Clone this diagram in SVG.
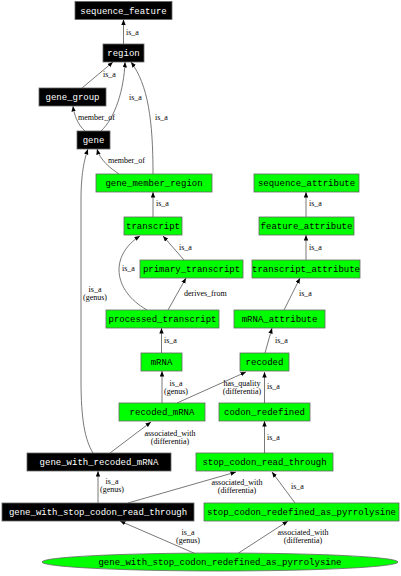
<svg xmlns="http://www.w3.org/2000/svg" width="401" height="576" viewBox="0 0 401 576">
<style>
.n rect, .n ellipse { stroke:#666; stroke-width:0.8; }
.g rect, .g ellipse { fill:#00ff00; }
.b rect { fill:#000; }
.n text { font-family:"Liberation Mono", monospace; font-size:9px; text-anchor:middle; }
.g text { fill:#000; }
.b text { fill:#fff; }
.e path { fill:none; stroke:#555; stroke-width:0.8; marker-end:url(#ah); }
.l { font-family:"Liberation Serif", serif; font-size:8px; fill:#000; }
.m { text-anchor:middle; }
</style>
<defs>
<marker id="ah" markerUnits="userSpaceOnUse" markerWidth="6" markerHeight="5" refX="5.5" refY="2.2" orient="auto">
<path d="M0,0 L5.5,2.2 L0,4.4 z" fill="#000"/>
</marker>
</defs>
<rect width="401" height="576" fill="#fff"/>
<g class="e" id="edges">
<path d="M123.5,44 L123.5,19.5"/>
<path d="M82,88 L113,62"/>
<path d="M101,131 C115,118 124,90 125,62"/>
<path d="M85,131 C78,125 74,115 73,106"/>
<path d="M153,174 C153,120 148,85 131,62"/>
<path d="M119,174 C110,168 100,160 97,149"/>
<path d="M153,217 L153,192"/>
<path d="M184,260 L163,236"/>
<path d="M147,310 C112,290 110,255 140,236"/>
<path d="M168,310 L186,278"/>
<path d="M161.5,353 L161.5,328"/>
<path d="M162,403 L162,371"/>
<path d="M177,403 L246,372"/>
<path d="M265,353 L272,328"/>
<path d="M284,310 L300,278"/>
<path d="M306,260 L306,235"/>
<path d="M306,217 L306,192"/>
<path d="M264.5,403 L264.5,372"/>
<path d="M264.5,453 L264.5,421"/>
<path d="M110,453 L151,422"/>
<path d="M93,453 C85,440 81,420 81,380 L81,200 C81,175 84,160 88,149"/>
<path d="M98,503 L98,471"/>
<path d="M128,503 L236,472"/>
<path d="M295,503 L272,472"/>
<path d="M196,554 L120,521"/>
<path d="M237,554 L288,521"/>
</g>
<g id="edge-labels">
<text class="l" x="126" y="35">is_a</text>
<text class="l" x="103" y="77">is_a</text>
<text class="l" x="129" y="100">is_a</text>
<text class="l" x="78" y="120">member_of</text>
<text class="l" x="155" y="120">is_a</text>
<text class="l" x="108" y="163">member_of</text>
<text class="l" x="156" y="206">is_a</text>
<text class="l" x="179" y="250">is_a</text>
<text class="l" x="122" y="271">is_a</text>
<text class="l" x="184" y="296">derives_from</text>
<text class="l" x="164" y="343">is_a</text>
<text class="l m" x="176" y="385.5">is_a</text>
<text class="l m" x="176" y="393.5">(genus)</text>
<text class="l m" x="242" y="385.5">has_quality</text>
<text class="l m" x="242" y="393.5">(differentia)</text>
<text class="l" x="267" y="389">is_a</text>
<text class="l" x="267" y="440">is_a</text>
<text class="l" x="275" y="343">is_a</text>
<text class="l" x="299" y="296">is_a</text>
<text class="l" x="309" y="250">is_a</text>
<text class="l" x="309" y="206">is_a</text>
<text class="l m" x="170" y="435.5">associated_with</text>
<text class="l m" x="170" y="443.5">(differentia)</text>
<text class="l m" x="95" y="292">is_a</text>
<text class="l m" x="95" y="300">(genus)</text>
<text class="l m" x="112" y="484">is_a</text>
<text class="l m" x="112" y="492">(genus)</text>
<text class="l m" x="237" y="485">associated_with</text>
<text class="l m" x="237" y="493">(differentia)</text>
<text class="l" x="291" y="489">is_a</text>
<text class="l m" x="188" y="535">is_a</text>
<text class="l m" x="188" y="543">(genus)</text>
<text class="l m" x="303" y="535">associated_with</text>
<text class="l m" x="303" y="543">(differentia)</text>
</g>
<g class="n b" id="sequence_feature"><rect x="75" y="1.5" width="97" height="18"/><text x="123.5" y="13.5">sequence_feature</text></g>
<g class="n b" id="region"><rect x="103" y="44" width="41" height="18"/><text x="123.5" y="56">region</text></g>
<g class="n b" id="gene_group"><rect x="39" y="88" width="67" height="18"/><text x="72.5" y="100">gene_group</text></g>
<g class="n b" id="gene"><rect x="77" y="131" width="33" height="18"/><text x="93.5" y="143">gene</text></g>
<g class="n g" id="gene_member_region"><rect x="96" y="174" width="116" height="18"/><text x="154" y="186">gene_member_region</text></g>
<g class="n g" id="transcript"><rect x="124" y="217" width="58" height="18"/><text x="153" y="229">transcript</text></g>
<g class="n g" id="primary_transcript"><rect x="140" y="260" width="103" height="18"/><text x="191.5" y="272">primary_transcript</text></g>
<g class="n g" id="processed_transcript"><rect x="106" y="310" width="113" height="18"/><text x="162.5" y="322">processed_transcript</text></g>
<g class="n g" id="mRNA"><rect x="141" y="353" width="41" height="18"/><text x="161.5" y="365">mRNA</text></g>
<g class="n g" id="recoded_mRNA"><rect x="119" y="403" width="86" height="18"/><text x="162" y="415">recoded_mRNA</text></g>
<g class="n g" id="recoded"><rect x="240" y="353" width="49" height="18"/><text x="264.5" y="365">recoded</text></g>
<g class="n g" id="codon_redefined"><rect x="219" y="403" width="91" height="18"/><text x="264.5" y="415">codon_redefined</text></g>
<g class="n g" id="stop_codon_read_through"><rect x="196" y="453" width="137" height="18"/><text x="264.5" y="465">stop_codon_read_through</text></g>
<g class="n g" id="stop_codon_redefined_as_pyrrolysine"><rect x="204" y="503" width="195" height="18"/><text x="301.5" y="515">stop_codon_redefined_as_pyrrolysine</text></g>
<g class="n g" id="sequence_attribute"><rect x="254" y="174" width="105" height="18"/><text x="306.5" y="186">sequence_attribute</text></g>
<g class="n g" id="feature_attribute"><rect x="259" y="217" width="95" height="18"/><text x="306.5" y="229">feature_attribute</text></g>
<g class="n g" id="transcript_attribute"><rect x="252" y="260" width="108" height="18"/><text x="306" y="272">transcript_attribute</text></g>
<g class="n g" id="mRNA_attribute"><rect x="234" y="310" width="91" height="18"/><text x="279.5" y="322">mRNA_attribute</text></g>
<g class="n b" id="gene_with_recoded_mRNA"><rect x="27" y="453" width="144" height="18"/><text x="99" y="465">gene_with_recoded_mRNA</text></g>
<g class="n b" id="gene_with_stop_codon_read_through"><rect x="2" y="503" width="192" height="18"/><text x="98" y="515">gene_with_stop_codon_read_through</text></g>
<g class="n g" id="gene_with_stop_codon_redefined_as_pyrrolysine"><ellipse cx="220" cy="562" rx="178" ry="9"/><text x="220" y="565">gene_with_stop_codon_redefined_as_pyrrolysine</text></g>
</svg>
